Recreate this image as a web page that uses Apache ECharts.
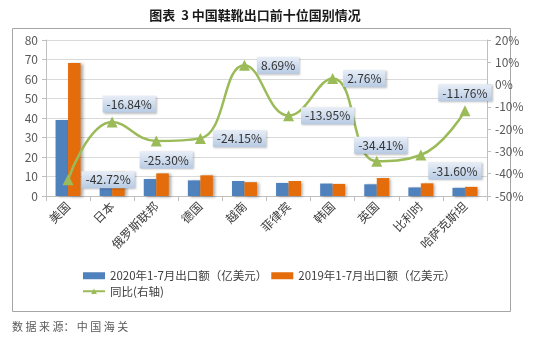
<!DOCTYPE html>
<html><head><meta charset="utf-8">
<script src="https://cdn.jsdelivr.net/npm/echarts@6/dist/echarts.min.js"></script>
<style>html,body{margin:0;padding:0;background:#fff}#c{width:541px;height:346px}</style>
</head><body><div id="c"></div>
<script>
var categories = ['美国','日本','俄罗斯联邦','德国','越南','菲律宾','韩国','英国','比利时','哈萨克斯坦'];
var export2020 = [39.0, 10.4, 8.7, 8.0, 7.7, 6.7, 6.4, 6.0, 4.4, 4.2];
var export2019 = [68.2, 12.5, 11.6, 10.6, 7.1, 7.7, 6.2, 9.2, 6.5, 4.7];
var yoy = [-42.72, -16.84, -25.30, -24.15, 8.69, -13.95, 2.76, -34.41, -31.60, -11.76];
var seriesNames = ['2020年1-7月出口额（亿美元）','2019年1-7月出口额（亿美元）','同比(右轴)'];
var leftTicks = {min:0, max:80, interval:10};
var rightTicks = {min:-50, max:20, interval:10};

// label placement styles (not data)
var labelStyles = [
  {position:'right', offset:[2,0]},
  {position:'top', offset:[17,2]},
  {position:'bottom', offset:[10,-1]},
  {position:'right', offset:[1,0]},
  {position:'right', offset:[1,0]},
  {position:'right', offset:[1,0]},
  {position:'right', offset:[-1,0]},
  {position:'top', offset:[4,4]},
  {position:'right', offset:[-4,16]},
  {position:'top', offset:[0,2]}
];

var chart = echarts.init(document.getElementById('c'), null, {renderer:'canvas'});
var grad = new echarts.graphic.LinearGradient(0,0,0,1,[{offset:0,color:'#e8eef7'},{offset:1,color:'#b7cbe4'}]);
var font = '"Noto Sans CJK SC", "Noto Sans", sans-serif';
var barShadow = {shadowColor:'rgba(0,0,0,0.35)', shadowBlur:3, shadowOffsetX:2, shadowOffsetY:1};

var lineData = yoy.map(function(v,i){
  return {value:v, label:{position:labelStyles[i].position, offset:labelStyles[i].offset}};
});

chart.setOption({
  animation:false,
  textStyle:{fontFamily:font},
  title:{text:'图表  3 中国鞋靴出口前十位国别情况', left:250, textAlign:'center', top:4,
    textStyle:{fontSize:13, fontWeight:'bold', color:'#1a1a1a', fontFamily:font}},
  graphic:[
    {type:'rect', shape:{x:12.5, y:28.5, width:498, height:283}, style:{fill:'none', stroke:'#a6a6a6', lineWidth:1}, silent:true, z:-1},
    {type:'text', left:12, top:321, style:{text:'数 据 来 源： 中 国 海 关', fill:'#595959', font:'11px '+font}}
  ],
  grid:{left:46, right:54, top:40, bottom:150},
  legend:{left:77, top:265, width:380, itemGap:4, itemWidth:22, itemHeight:7,
    textStyle:{fontSize:11.5, color:'#404040', fontFamily:font},
    data:[{name:seriesNames[0], icon:'rect'},{name:seriesNames[1], icon:'rect'},{name:seriesNames[2]}]},
  xAxis:{type:'category', data:categories,
    axisLine:{lineStyle:{color:'#bfbfbf'}},
    axisTick:{show:true, length:5, lineStyle:{color:'#bfbfbf'}},
    axisLabel:{rotate:45, fontSize:12, color:'#404040', margin:8, interval:0, fontFamily:font}},
  yAxis:[
    {type:'value', min:leftTicks.min, max:leftTicks.max, interval:leftTicks.interval,
      axisLine:{show:true, lineStyle:{color:'#bfbfbf'}},
      axisTick:{show:true, length:4, lineStyle:{color:'#bfbfbf'}},
      axisLabel:{fontSize:12, color:'#595959', margin:8},
      splitLine:{lineStyle:{color:'#d9d9d9'}}},
    {type:'value', min:rightTicks.min, max:rightTicks.max, interval:rightTicks.interval,
      axisLine:{show:true, lineStyle:{color:'#bfbfbf'}},
      axisTick:{show:true, length:4, lineStyle:{color:'#bfbfbf'}},
      axisLabel:{fontSize:12, color:'#595959', margin:8, formatter:'{value}%'},
      splitLine:{show:false}}
  ],
  series:[
    {name:seriesNames[0], type:'bar', data:export2020, barWidth:12.5, barGap:'0%',
      itemStyle:Object.assign({color:'#4f81bd'}, barShadow)},
    {name:seriesNames[1], type:'bar', data:export2019, barWidth:12.5, barGap:'0%',
      itemStyle:Object.assign({color:'#e46c0a'}, barShadow)},
    {name:seriesNames[2], type:'line', yAxisIndex:1, data:lineData, smooth:0.45,
      symbol:'triangle', symbolSize:11,
      lineStyle:{color:'#9bbb59', width:2.5},
      itemStyle:{color:'#9bbb59'},
      z:5,
      label:{show:true, formatter:function(p){return p.value.toFixed(2)+'%';},
        fontSize:12, color:'#333', backgroundColor:grad, padding:[3,4,2,4],
        shadowColor:'rgba(0,0,0,0.25)', shadowBlur:2, shadowOffsetX:1, shadowOffsetY:1, distance:6}}
  ]
});
</script></body></html>
